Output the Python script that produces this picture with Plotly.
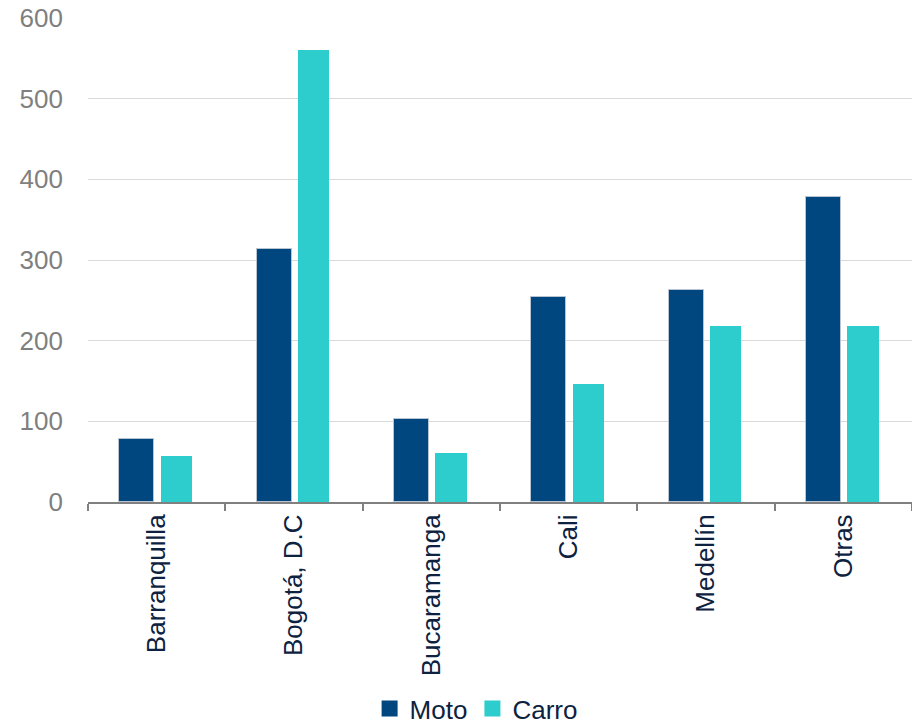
import plotly.graph_objects as go

categories = ["Barranquilla", "Bogotá, D.C", "Bucaramanga", "Cali", "Medellín", "Otras"]
moto = [78, 314, 103, 254, 263, 378]
carro = [57, 560, 61, 146, 218, 218]
y_ticks = [0, 100, 200, 300, 400, 500, 600]

MOTO_C = "#00467F"
CARRO_C = "#2ECDCD"

fig = go.Figure()
fig.add_trace(go.Bar(
    x=categories, y=moto, name="Moto", showlegend=False,
    marker=dict(color=MOTO_C, line=dict(color="#b8c4d2", width=1)),
    width=0.255, offset=-0.272,
))
fig.add_trace(go.Bar(
    x=categories, y=carro, name="Carro", showlegend=False,
    marker=dict(color=CARRO_C, line=dict(width=0)),
    width=0.228, offset=0.029,
))
# legend entries with larger square swatches
for nm, col in [("Moto", MOTO_C), ("Carro", CARRO_C)]:
    fig.add_trace(go.Scatter(
        x=[None], y=[None], mode="markers", name=nm,
        marker=dict(symbol="square", size=17, color=col),
    ))

fig.update_layout(
    width=912, height=726,
    margin=dict(l=88, r=0, t=18, b=224, autoexpand=False),
    paper_bgcolor="white", plot_bgcolor="white",
    font=dict(family="Liberation Sans, Arial", size=26, color="#0d2240"),
    showlegend=True,
    legend=dict(orientation="h", x=0.471, xanchor="center",
                yref="container", y=0.024, yanchor="middle",
                font=dict(size=26, color="#0d2240"), itemwidth=30, traceorder="normal",
                tracegroupgap=0),
    bargap=0, barmode="overlay",
)
fig.update_xaxes(
    type="category", tickangle=-90, automargin=False,
    showline=True, linecolor="#808080", linewidth=2,
    ticks="outside", tickson="boundaries", ticklen=7, tickcolor="#808080", tickwidth=2,
    tickfont=dict(size=26, color="#0d2240"),
    showgrid=False,
)
fig.update_yaxes(
    range=[0, 600], tickvals=y_ticks, automargin=False,
    showgrid=True, gridcolor="#d9d9d9", gridwidth=1,
    zeroline=False, showline=False,
    tickfont=dict(size=26, color="#7f7f7f"),
    ticklabelstandoff=24,
)

fig.write_html("out.html")
